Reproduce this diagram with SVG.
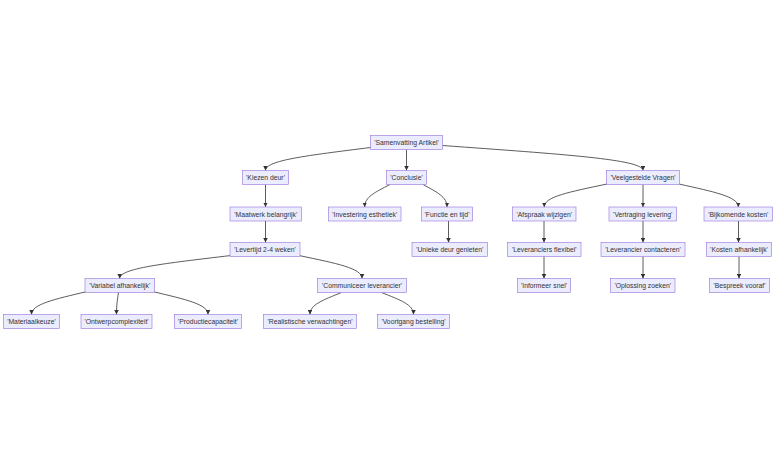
<svg xmlns="http://www.w3.org/2000/svg" width="784" height="464" viewBox="0 0 784 464">
<style>
.node rect{fill:#ECECFF;stroke:#9370DB;stroke-width:0.6}
.node text{font-family:"Liberation Sans",Arial,sans-serif;font-size:6.8px;fill:#333;text-anchor:middle;dominant-baseline:central}
.edge{fill:none;stroke:#333;stroke-width:0.8;marker-end:url(#arrow)}
</style>
<defs>
<marker id="arrow" viewBox="0 0 10 10" refX="10" refY="5" markerUnits="userSpaceOnUse" markerWidth="4.5" markerHeight="4.5" orient="auto">
<path d="M0,0 L10,5 L0,10 z" fill="#333"/>
</marker>
</defs>
<rect width="784" height="464" fill="#fff"/>
<g id="connectors">
<path class="edge" d="M370.5,147.5 C307.5,155.5 265.5,160.2 265.5,170.5"/>
<path class="edge" d="M442.5,145.5 C562.8,154.3 643,159.3 643,170.5"/>
<path class="edge" d="M406.5,149.5 L406.5,170.5"/>
<path class="edge" d="M390,184.5 C374.8,192.4 364.7,196.9 364.7,207"/>
<path class="edge" d="M423,184.5 C437.4,192.4 447,196.9 447,207"/>
<path class="edge" d="M607,184 C569.3,192 544.2,196.6 544.2,207"/>
<path class="edge" d="M643,184.5 L643,207"/>
<path class="edge" d="M679,184 C714.6,192 738.3,196.6 738.3,207"/>
<path class="edge" d="M265.5,184.5 L265.5,207"/>
<path class="edge" d="M265.5,221 L265.5,242.5"/>
<path class="edge" d="M448.5,221 L448.5,242.5"/>
<path class="edge" d="M544,221 L544,242.5"/>
<path class="edge" d="M643,221 L643,242.5"/>
<path class="edge" d="M738.5,221 L738.5,242.5"/>
<path class="edge" d="M231,255.5 C164.2,263.5 119.7,268.2 119.7,278.5"/>
<path class="edge" d="M299,255.5 C336.8,263.5 362,268.2 362,278.5"/>
<path class="edge" d="M544,256.5 L544,278.5"/>
<path class="edge" d="M643,256.5 L643,278.5"/>
<path class="edge" d="M739,256.5 L739,278.5"/>
<path class="edge" d="M87,291.5 C53.7,299.5 31.5,304.2 31.5,314.5"/>
<path class="edge" d="M118.5,292.5 C117.3,300.2 116.5,304.6 116.5,314.5"/>
<path class="edge" d="M152.5,291.5 C185.8,299.5 208,304.2 208,314.5"/>
<path class="edge" d="M341.5,292.5 C322.6,300.2 310,304.6 310,314.5"/>
<path class="edge" d="M381.5,292.5 C400.7,300.2 413.5,304.6 413.5,314.5"/>
</g>
<g id="n-root" class="node"><rect x="370.5" y="135.5" width="72" height="14"/><text x="406.5" y="142.5">'Samenvatting Artikel'</text></g>
<g id="n-kiezen" class="node"><rect x="242.5" y="170.5" width="46" height="14"/><text x="265.5" y="177.5">'Kiezen deur'</text></g>
<g id="n-conclusie" class="node"><rect x="386.5" y="170.5" width="40" height="14"/><text x="406.5" y="177.5">'Conclusie'</text></g>
<g id="n-vragen" class="node"><rect x="606.5" y="170.5" width="73" height="14"/><text x="643" y="177.5">'Veelgestelde Vragen'</text></g>
<g id="n-maatwerk" class="node"><rect x="230" y="207" width="71.5" height="14"/><text x="265.75" y="214">'Maatwerk belangrijk'</text></g>
<g id="n-investering" class="node"><rect x="328.5" y="207" width="72.5" height="14"/><text x="364.75" y="214">'Investering esthetiek'</text></g>
<g id="n-functie" class="node"><rect x="421.5" y="207" width="51" height="14"/><text x="447" y="214">'Functie en tijd'</text></g>
<g id="n-afspraak" class="node"><rect x="512.5" y="207" width="63.5" height="14"/><text x="544.25" y="214">'Afspraak wijzigen'</text></g>
<g id="n-vertraging" class="node"><rect x="609" y="207" width="67.5" height="14"/><text x="642.75" y="214">'Vertraging levering'</text></g>
<g id="n-bijkomende" class="node"><rect x="704" y="207" width="68.5" height="14"/><text x="738.25" y="214">'Bijkomende kosten'</text></g>
<g id="n-levertijd" class="node"><rect x="230" y="242.5" width="70" height="14"/><text x="265" y="249.5">'Levertijd 2-4 weken'</text></g>
<g id="n-unieke" class="node"><rect x="412" y="242.5" width="75.5" height="14"/><text x="449.75" y="249.5">'Unieke deur genieten'</text></g>
<g id="n-flexibel" class="node"><rect x="507.5" y="242.5" width="73.5" height="14"/><text x="544.25" y="249.5">'Leveranciers flexibel'</text></g>
<g id="n-contacteren" class="node"><rect x="601" y="242.5" width="84" height="14"/><text x="643" y="249.5">'Leverancier contacteren'</text></g>
<g id="n-kosten" class="node"><rect x="706.5" y="242.5" width="65" height="14"/><text x="739" y="249.5">'Kosten afhankelijk'</text></g>
<g id="n-variabel" class="node"><rect x="85" y="278.5" width="69.5" height="14"/><text x="119.75" y="285.5">'Variabel afhankelijk'</text></g>
<g id="n-communiceer" class="node"><rect x="317.5" y="278.5" width="89" height="14"/><text x="362" y="285.5">'Communiceer leverancier'</text></g>
<g id="n-informeer" class="node"><rect x="517.5" y="278.5" width="53" height="14"/><text x="544" y="285.5">'Informeer snel'</text></g>
<g id="n-oplossing" class="node"><rect x="610.5" y="278.5" width="64.5" height="14"/><text x="642.75" y="285.5">'Oplossing zoeken'</text></g>
<g id="n-bespreek" class="node"><rect x="709.5" y="278.5" width="60" height="14"/><text x="739.5" y="285.5">'Bespreek vooraf'</text></g>
<g id="n-materiaal" class="node"><rect x="3.5" y="314.5" width="56" height="14"/><text x="31.5" y="321.5">'Materiaalkeuze'</text></g>
<g id="n-ontwerp" class="node"><rect x="81" y="314.5" width="71" height="14"/><text x="116.5" y="321.5">'Ontwerpcomplexiteit'</text></g>
<g id="n-productie" class="node"><rect x="174.5" y="314.5" width="67" height="14"/><text x="208" y="321.5">'Productiecapaciteit'</text></g>
<g id="n-realistisch" class="node"><rect x="263.5" y="314.5" width="93" height="14"/><text x="310" y="321.5">'Realistische verwachtingen'</text></g>
<g id="n-voortgang" class="node"><rect x="377.5" y="314.5" width="72" height="14"/><text x="413.5" y="321.5">'Voortgang bestelling'</text></g>
</svg>
